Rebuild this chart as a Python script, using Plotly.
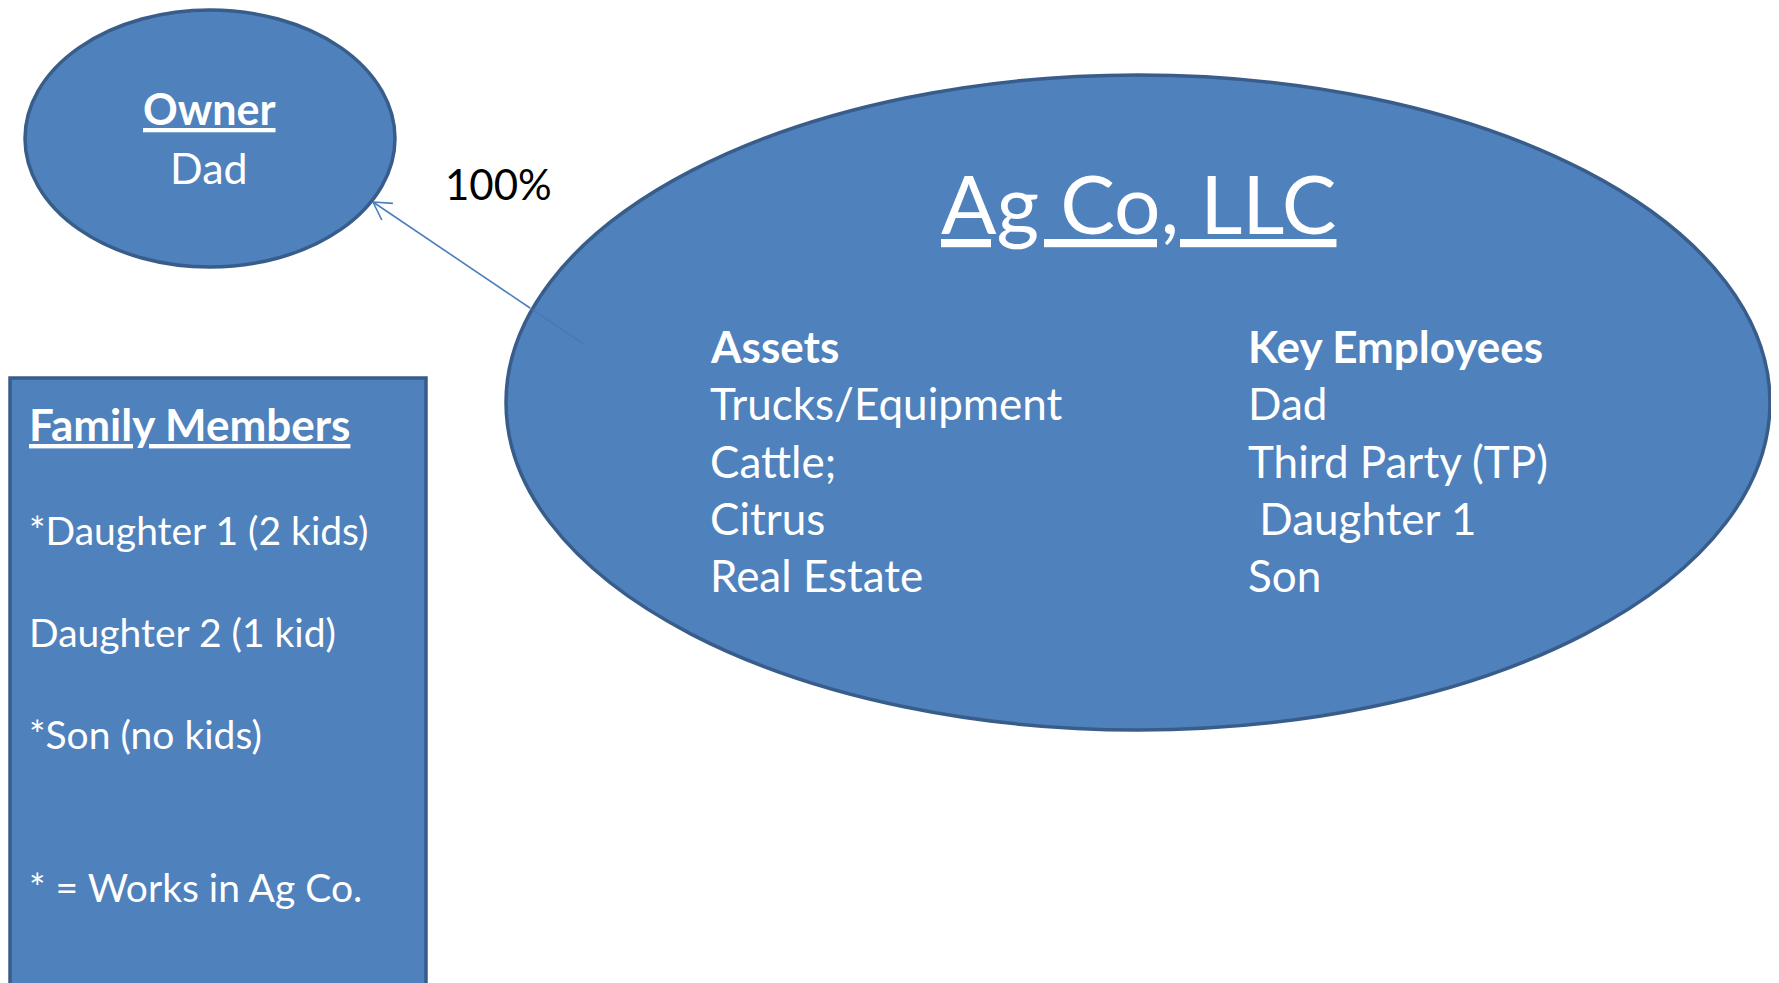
import math
import plotly.graph_objects as go

W, H = 1779, 983
OFF = 8  # default page body margin
FILL = "#4F81BD"
EDGE = "#385D8A"
FONT = "Lato"

# ---- content ----
owner_title = "Owner"
owner_name = "Dad"
ownership_pct = "100%"
company = "Ag Co, LLC"
assets_title = "Assets"
assets = ["Trucks/Equipment", "Cattle;", "Citrus", "Real Estate"]
employees_title = "Key Employees"
employees = ["Dad", "Third Party (TP)", " Daughter 1", "Son"]
family_title = "Family Members"
family = ["*Daughter 1 (2 kids)", "Daughter 2 (1 kid)", "*Son (no kids)"]
family_note = "* = Works in Ag Co."

fig = go.Figure()
shapes = []
ann = []

# arrow line from company ellipse to owner ellipse (drawn first -> under ellipse)
tail = (585, 345)
edge_pt = (530, 308)
head = (373, 202)
shapes.append(dict(type="line", x0=edge_pt[0], y0=edge_pt[1], x1=head[0], y1=head[1],
                   line=dict(color="#4A7EBB", width=1.6)))

# owner ellipse
shapes.append(dict(type="circle", x0=25, y0=10, x1=395, y1=267,
                   fillcolor=FILL, line=dict(color=EDGE, width=3.5)))
# company ellipse
shapes.append(dict(type="circle", x0=506, y0=75, x1=1770, y1=730,
                   fillcolor=FILL, line=dict(color=EDGE, width=3.5)))
# faint continuation inside ellipse
shapes.append(dict(type="line", x0=edge_pt[0], y0=edge_pt[1], x1=tail[0], y1=tail[1],
                   line=dict(color="rgba(70,115,180,0.55)", width=1.6)))
# arrowhead arms
ang = math.atan2(tail[1] - head[1], tail[0] - head[0])
for d in (-30, 30):
    a = ang + math.radians(d)
    shapes.append(dict(type="line", x0=head[0], y0=head[1],
                       x1=head[0] + 20 * math.cos(a), y1=head[1] + 20 * math.sin(a),
                       line=dict(color="#4A7EBB", width=1.6)))

# family box
shapes.append(dict(type="rect", x0=10, y0=378, x1=426, y1=1000,
                   fillcolor=FILL, line=dict(color=EDGE, width=3.5)))

def text(x, y, s, size, bold=False, color="white", anchor="left"):
    if bold:
        s = "<b>" + s + "</b>"
    ann.append(dict(x=x, y=y, xref="x", yref="y", text=s, showarrow=False,
                    xanchor=anchor, yanchor="middle",
                    font=dict(family=FONT, size=size, color=color)))

text(209, 108, "<u>" + owner_title + "</u>", 43, bold=True, anchor="center")
text(209, 167, owner_name, 43, anchor="center")
text(498, 184, ownership_pct, 42, color="black", anchor="center")
text(1138, 202, "<u>" + company + "</u>", 82, anchor="center")

text(708, 346, assets_title, 44, bold=True)
text(1246, 346, employees_title, 44, bold=True)
row_y = [403, 461, 518, 575]
for y, s in zip(row_y, assets):
    text(708, y, s, 44)
for y, s in zip(row_y, employees):
    text(1246, y, s, 44)

text(27, 424, "<u>" + family_title + "</u>", 44, bold=True)
for y, s in zip([530, 632, 734], family):
    text(27, y, s, 39)
text(27, 887, family_note, 39)

fig.update_layout(
    width=W - OFF, height=H - OFF, margin=dict(l=0, r=0, t=0, b=0),
    paper_bgcolor="white", plot_bgcolor="white",
    xaxis=dict(range=[OFF, W], visible=False, fixedrange=True),
    yaxis=dict(range=[H, OFF], visible=False, fixedrange=True),
    shapes=shapes, annotations=ann, showlegend=False,
)
fig.write_html("out.html", config={"displayModeBar": False})
